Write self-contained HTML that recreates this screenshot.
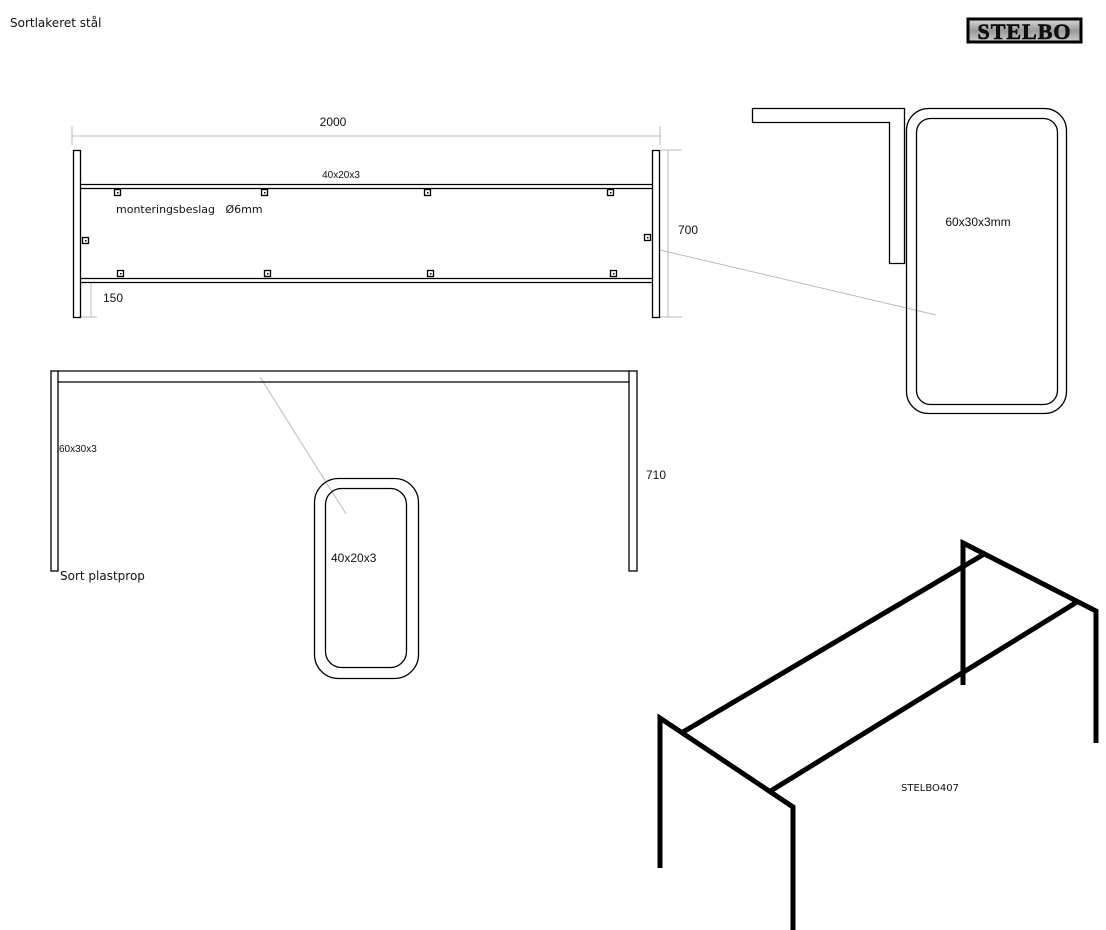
<!DOCTYPE html>
<html><head><style>
html,body{margin:0;padding:0;background:#fff;}
svg{display:block;}
text{font-family:"Liberation Sans",sans-serif;fill:#111;}
.d{font-family:"DejaVu Sans",sans-serif;}
</style></head><body>
<svg width="1106" height="930" viewBox="0 0 1106 930" xmlns="http://www.w3.org/2000/svg">
<rect width="1106" height="930" fill="#fff"/>
<text x="10" y="27" font-size="12" class="d">Sortlakeret stål</text>
<defs><linearGradient id="g" x1="0" y1="0" x2="0" y2="1"><stop offset="0" stop-color="#ddd"/><stop offset="0.5" stop-color="#999"/><stop offset="1" stop-color="#ccc"/></linearGradient></defs>
<rect x="968" y="19" width="113" height="23" fill="url(#g)" stroke="#000" stroke-width="3"/>
<text x="1024.5" y="39" font-size="22" font-weight="bold" text-anchor="middle" style="font-family:'Liberation Serif',serif" fill="#000" stroke="#000" stroke-width="0.6" letter-spacing="1">STELBO</text>

<g stroke="#bbb" stroke-width="1" fill="none">
<line x1="72" y1="136" x2="660" y2="136"/><line x1="72" y1="126" x2="72" y2="145"/><line x1="660" y1="126" x2="660" y2="145"/>
<line x1="668" y1="150" x2="668" y2="317"/><line x1="660" y1="150" x2="682" y2="150"/><line x1="660" y1="317" x2="682" y2="317"/>
<line x1="91" y1="283" x2="91" y2="317"/><line x1="81" y1="317" x2="97" y2="317"/>
<line x1="660" y1="250" x2="936" y2="315"/>
<line x1="260" y1="377" x2="346" y2="514"/>
</g>
<text x="333" y="126" font-size="12" text-anchor="middle">2000</text>
<text x="341" y="178" font-size="10" text-anchor="middle">40x20x3</text>
<text x="116" y="213" font-size="11" class="d" xml:space="preserve">monteringsbeslag   Ø6mm</text>
<text x="678" y="234" font-size="12">700</text>
<text x="103" y="302" font-size="12">150</text>
<g stroke="#000" stroke-width="1.3" fill="#fff">
<rect x="73.5" y="150.5" width="7" height="167"/>
<rect x="652.5" y="150.5" width="7" height="167"/>
<line x1="81" y1="184.5" x2="652" y2="184.5"/><line x1="81" y1="188.5" x2="652" y2="188.5"/>
<line x1="81" y1="278.5" x2="652" y2="278.5"/><line x1="81" y1="282.5" x2="652" y2="282.5"/>
<rect x="114.5" y="189.5" width="6" height="6"/><rect x="261.5" y="189.5" width="6" height="6"/><rect x="424.5" y="189.5" width="6" height="6"/><rect x="607.5" y="189.5" width="6" height="6"/>
<rect x="117.5" y="270.5" width="6" height="6"/><rect x="264.5" y="270.5" width="6" height="6"/><rect x="427.5" y="270.5" width="6" height="6"/><rect x="610.5" y="270.5" width="6" height="6"/>
<rect x="82.5" y="237.5" width="6" height="6"/><rect x="644.5" y="234.5" width="6" height="6"/>
</g>
<g fill="#000"><rect x="117" y="192" width="1.5" height="1.5"/><rect x="264" y="192" width="1.5" height="1.5"/><rect x="427" y="192" width="1.5" height="1.5"/><rect x="610" y="192" width="1.5" height="1.5"/><rect x="120" y="273" width="1.5" height="1.5"/><rect x="267" y="273" width="1.5" height="1.5"/><rect x="430" y="273" width="1.5" height="1.5"/><rect x="613" y="273" width="1.5" height="1.5"/><rect x="85" y="240" width="1.5" height="1.5"/><rect x="647" y="237" width="1.5" height="1.5"/></g>

<g stroke="#000" stroke-width="1.3" fill="none">
<path d="M752.5 108.5 H904.5 V263.5 H889.5 V122.5 H752.5 Z"/>
<rect x="906.5" y="108.5" width="160" height="305" rx="22"/>
<rect x="916.5" y="118.5" width="141" height="286" rx="14"/>
</g>
<text x="978" y="226" font-size="12" text-anchor="middle">60x30x3mm</text>

<g stroke="#000" stroke-width="1.3" fill="none">
<rect x="51" y="371" width="7" height="200"/>
<rect x="629" y="371" width="8" height="200"/>
<line x1="58" y1="371" x2="629" y2="371"/><line x1="58" y1="382" x2="629" y2="382"/>
<rect x="314.5" y="478.5" width="104" height="200" rx="24"/>
<rect x="325.5" y="488.5" width="81" height="179" rx="16"/>
</g>
<text x="59" y="452" font-size="10">60x30x3</text>
<text x="646" y="479" font-size="12">710</text>
<text x="60" y="580" font-size="12" class="d">Sort plastprop</text>
<text x="331" y="562" font-size="12">40x20x3</text>

<g stroke="#000" stroke-width="5" fill="none" stroke-linecap="butt">
<polyline points="660,868 660,718 793,807 793,930"/>
<polyline points="963,685 963,543 1096,611 1096,743"/>
<line x1="683" y1="732" x2="986" y2="553"/>
<line x1="769" y1="792" x2="1077" y2="602"/>
</g>
<text x="901" y="791" font-size="10" class="d">STELBO407</text>
</svg>
</body></html>
